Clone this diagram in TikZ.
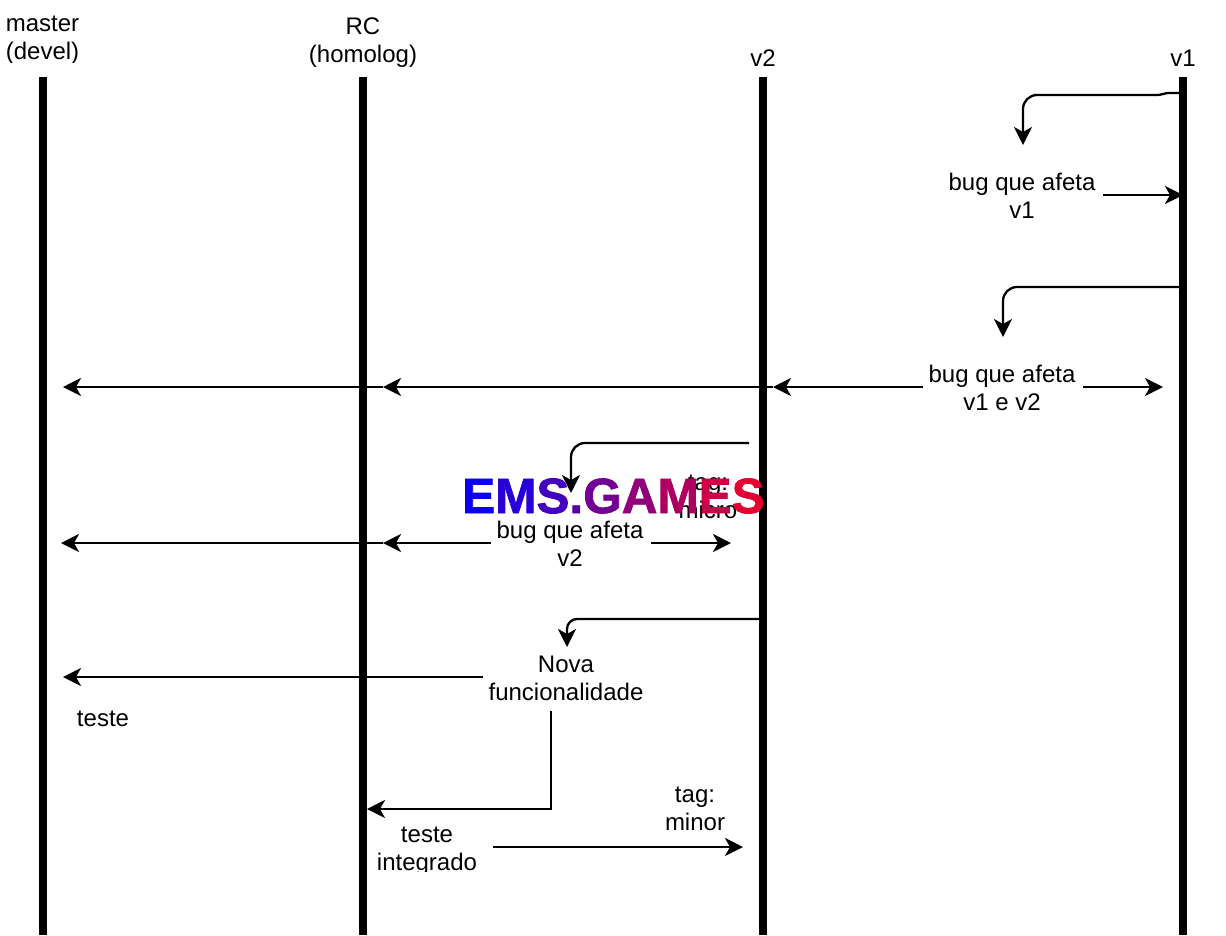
\documentclass[tikz,border=0pt]{standalone}
\usepackage{fontspec}
\setmainfont{Liberation Sans}
\newfontfamily\logofont{Liberation Sans Bold}[FakeBold=1.5]
\usetikzlibrary{arrows.meta}
\tikzset{
  lab/.style={align=center,inner sep=0pt,outer sep=0pt,anchor=center,font=\fontsize{24}{28}\selectfont,text=black},
  lane/.style={line width=8pt,draw=black},
  conn/.style={line width=2.3pt,draw=black,rounded corners=14pt,-{Stealth[length=18pt,width=18pt,inset=5pt]}},
  logo/.style={inner sep=0pt,outer sep=0pt,anchor=center,font=\fontsize{49.5}{50}\logofont\selectfont}
}
\definecolor{c1}{HTML}{0D00F2}
\definecolor{c2}{HTML}{2800D8}
\definecolor{c3}{HTML}{4400BE}
\definecolor{c4}{HTML}{5A00A8}
\definecolor{c5}{HTML}{720092}
\definecolor{c6}{HTML}{91007A}
\definecolor{c7}{HTML}{AE0060}
\definecolor{c8}{HTML}{CB0048}
\definecolor{c9}{HTML}{E20032}
\begin{document}
\begin{tikzpicture}[x=1pt,y=-1pt]
\useasboundingbox (0,0) rectangle (1226,935);
% lanes
\coordinate (mT) at (43,77);  \coordinate (mB) at (43,935);
\coordinate (rT) at (363,77); \coordinate (rB) at (363,935);
\coordinate (aT) at (763,77); \coordinate (aB) at (763,935);
\coordinate (bT) at (1183,77);\coordinate (bB) at (1183,935);
\draw[lane] (mT) -- (mB);
\draw[lane] (rT) -- (rB);
\draw[lane] (aT) -- (aB);
\draw[lane] (bT) -- (bB);
% headers
\begin{scope}
\clip (0,0) rectangle (78,62.5);
\node[lab] (master) at (42.5,40.5) {master\\(devel)};
\end{scope}
\node[lab] (rc) at (363,43) {RC\\(homolog)};
\node[lab] (vb) at (763,58) {v2};
\node[lab] (va) at (1183,58) {v1};
% labels
\node[lab] (bugA) at (1022,196) {bug que afeta\\v1};
\node[lab] (bugAB) at (1002,388) {bug que afeta\\v1 e v2};
\node[lab] (micro) at (708,497) {tag:\\micro};
\node[lab] (bugB) at (570,544) {bug que afeta\\v2};
\node[lab] (nova) at (566,678) {Nova\\funcionalidade};
\node[lab] (teste) at (103,719) {teste};
\node[lab] (minor) at (695,809) {tag:\\minor};
\begin{scope}
\clip (360,815) rectangle (500,871);
\node[lab] (integ) at (427,851) {teste\\integrado};
\end{scope}
% logo
\node[logo] (ems) at (613.5,496) {\textcolor{c1}{E}\textcolor{c2}{M}\textcolor{c3}{S}\textcolor{c4}{.}\textcolor{c5}{G}\textcolor{c6}{A}\textcolor{c7}{M}\textcolor{c8}{E}\textcolor{c9}{S}};
% connector end points
\coordinate (p1a) at (1179,93);  \coordinate (p1j) at (1166,93); \coordinate (p1b) at (1160,95);
\coordinate (p1c) at (1023,95);  \coordinate (p1d) at (1023,145);
\coordinate (p2a) at (1103,195); \coordinate (p2b) at (1183,195);
\coordinate (p3a) at (1179,287); \coordinate (p3c) at (1003,287); \coordinate (p3d) at (1003,337);
\coordinate (p4a) at (923,387);  \coordinate (p4b) at (773,387);
\coordinate (p4c) at (1083,387); \coordinate (p4d) at (1163,387);
\coordinate (p4e) at (773,387);  \coordinate (p4f) at (383,387);
\coordinate (p4g) at (383,387);  \coordinate (p4h) at (63,387);
\coordinate (p5a) at (749,443);  \coordinate (p5c) at (571,443); \coordinate (p5d) at (571,493);
\coordinate (p6a) at (491,543);  \coordinate (p6b) at (383,543);
\coordinate (p6c) at (383,543);  \coordinate (p6d) at (61,543);
\coordinate (p6e) at (651,543);  \coordinate (p6f) at (731,543);
\coordinate (p7a) at (759,619);  \coordinate (p7c) at (567,619); \coordinate (p7d) at (567,647);
\coordinate (p8a) at (483,677);  \coordinate (p8b) at (63,677);
\coordinate (p9a) at (551,711);  \coordinate (p9c) at (551,809); \coordinate (p9d) at (367,809);
\coordinate (p10a) at (493,847); \coordinate (p10b) at (743,847);
% connectors
\draw[conn,rounded corners=3pt] (p1a) -- (p1j) -- (p1b) -- ([xshift=14pt]p1c) [rounded corners=14pt] -- (p1c) -- (p1d);
\draw[conn] (p2a) -- (p2b);
\draw[conn] (p3a) -- (p3c) -- (p3d);
\draw[conn] (p4a) -- (p4b);
\draw[conn] (p4c) -- (p4d);
\draw[conn] (p4e) -- (p4f);
\draw[conn] (p4g) -- (p4h);
\draw[conn] (p5a) -- (p5c) -- (p5d);
\draw[conn] (p6a) -- (p6b);
\draw[conn] (p6c) -- (p6d);
\draw[conn] (p6e) -- (p6f);
\draw[conn,rounded corners=10pt] (p7a) -- (p7c) -- (p7d);
\draw[conn] (p8a) -- (p8b);
\draw[conn,rounded corners=0pt] (p9a) -- (p9c) -- (p9d);
\draw[conn] (p10a) -- (p10b);
\end{tikzpicture}
\end{document}
